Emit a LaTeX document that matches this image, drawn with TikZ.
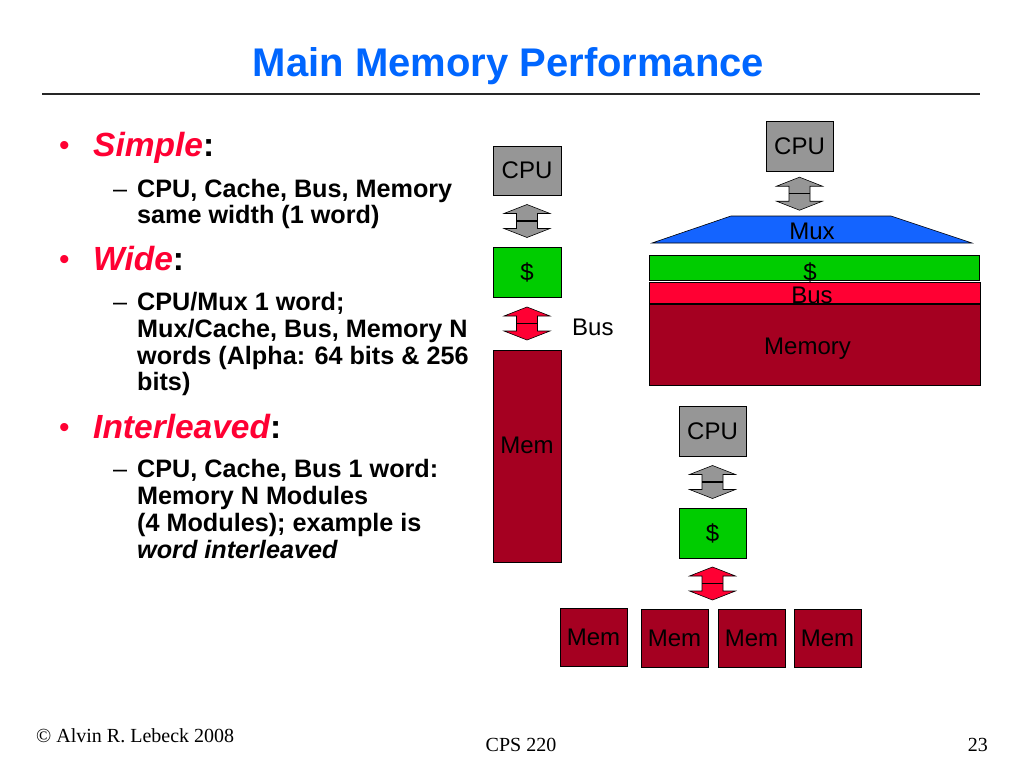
\documentclass[tikz,border=0pt]{standalone}
\usepackage{fontspec}
\setmainfont{Liberation Sans}
\newfontfamily\footfont{Liberation Serif}
\usetikzlibrary{calc}

\definecolor{titleblue}{RGB}{0,102,255}
\definecolor{hotred}{RGB}{255,0,51}
\definecolor{cpugray}{RGB}{150,150,150}
\definecolor{cachegreen}{RGB}{0,204,0}
\definecolor{memred}{RGB}{165,0,33}
\definecolor{muxblue}{RGB}{20,100,255}

\newcommand{\boxfont}{\fontsize{24}{24}\selectfont}

% double headed block arrow between two boxes
\newcommand{\busarrow}[3]{% colour, upper node, lower node
  \coordinate (mid) at ($(#2.south)!0.5!(#2.south|-#3.north)$);
  \draw[arrowline, fill=#1] ($(mid)+(0,-16.5)$) -- ++(23,9) -- ++(-12.5,0) -- ++(0,15)
    -- ++(12.5,0) -- ++(-23,9) -- ++(-23,-9) -- ++(12.5,0) -- ++(0,-15) -- ++(-12.5,0) -- cycle;
  \draw[arrowline, line width=1.3pt] ($(mid)+(-10.5,0)$) -- ++(21,0);
}

\tikzset{
  unitbox/.style={draw=black, line width=0.8pt, inner sep=0pt, minimum width=67pt,
    minimum height=50pt, text=black, font=\boxfont},
  cpubox/.style={unitbox, fill=cpugray},
  cachebox/.style={unitbox, fill=cachegreen},
  membox/.style={unitbox, fill=memred},
  boxlabel/.style={font=\boxfont, text=black, inner sep=0pt},
  arrowline/.style={draw=black, line width=0.6pt, line join=miter},
  bodytext/.style={anchor=base west, inner sep=0pt, text=black, font=\bfseries\fontsize{25.2}{27}\selectfont},
  headtext/.style={anchor=base west, inner sep=0pt, text=black, font=\bfseries\fontsize{33.5}{36}\selectfont},
  dashtext/.style={anchor=base west, inner sep=0pt, text=black, font=\fontsize{25.2}{27}\selectfont},
  dottext/.style={anchor=base west, inner sep=0pt, text=hotred, font=\fontsize{30}{30}\selectfont},
  foottext/.style={inner sep=0pt, text=black, font=\footfont\fontsize{20}{20}\selectfont},
}

\begin{document}
\begin{tikzpicture}[x=1pt, y=-1pt]
    \useasboundingbox[fill=white] (0,0) rectangle (1024,768);

    % Title and rule
    \node[anchor=base, inner sep=0pt, text=titleblue, font=\bfseries\fontsize{40}{40}\selectfont]
        (title) at (508.5,76) {Main Memory Performance};
    \draw[line width=1.6pt, black!85] (42,94) -- (980,94);

    % Bullet list
    \node[dottext] (dotSimple) at (59,155) {•};
    \node[headtext] (hdSimple) at (93,156) {\textcolor{hotred}{\itshape Simple}:};
    \node[dashtext] (dashSimple) at (113,197) {–};
    \node[bodytext] (simpleA) at (137,197) {CPU, Cache, Bus, Memory};
    \node[bodytext] (simpleB) at (137,223) {same width (1 word)};

    \node[dottext] (dotWide) at (59,269) {•};
    \node[headtext] (hdWide) at (93,270) {\textcolor{hotred}{\itshape Wide}:};
    \node[dashtext] (dashWide) at (113,310) {–};
    \node[bodytext] (wideA) at (137,310) {CPU/Mux 1 word;};
    \node[bodytext] (wideB) at (137,337) {Mux/Cache, Bus, Memory N};
    \node[bodytext] (wideC) at (137,364) {words (Alpha: 64 bits \& 256};
    \node[bodytext] (wideD) at (137,390) {bits)};

    \node[dottext] (dotInter) at (59,437) {•};
    \node[headtext] (hdInter) at (93,438) {\textcolor{hotred}{\itshape Interleaved}:};
    \node[dashtext] (dashInter) at (113,477) {–};
    \node[bodytext] (interA) at (137,477) {CPU, Cache, Bus 1 word:};
    \node[bodytext] (interB) at (137,504) {Memory N Modules};
    \node[bodytext] (interC) at (137,531) {(4 Modules); example is};
    \node[bodytext] (interD) at (137,558) {\itshape word interleaved};

    % Simple organisation
    \node[cpubox, minimum width=68pt, minimum height=49pt] (cpuA) at (527,170.5) {CPU};
    \node[cachebox, minimum width=68pt] (cacheA) at (527,272) {\$};
    \node[membox, minimum width=68pt, minimum height=212pt,
        label={[boxlabel, yshift=11pt]center:Mem}] (memA) at (527,456) {};
    \busarrow{cpugray}{cpuA}{cacheA}
    \busarrow{hotred}{cacheA}{memA}
    \node[boxlabel, anchor=west] (busA) at (572,327) {Bus};

    % Wide organisation
    \node[cpubox] (cpuB) at (799.5,146) {CPU};
    \draw[arrowline, fill=muxblue] (652,243) -- (731,216) -- (891,216) -- (972,243) -- cycle;
    \coordinate (muxtop) at (811,216);
    \node[boxlabel] (muxB) at (812,231) {Mux};
    \busarrow{cpugray}{cpuB}{muxtop}
    \node[cachebox, minimum width=330pt, minimum height=25pt] (cacheB) at (814,267.5) {};
    \node[unitbox, fill=hotred, minimum width=331pt, minimum height=21pt] (busB) at (814.5,292.5) {};
    \node[membox, minimum width=331pt, minimum height=81pt,
        label={[boxlabel, xshift=-7pt, yshift=-4pt]center:Memory}] (memB) at (814.5,344.5) {};
    \node[boxlabel] (cacheBtext) at (810,272) {\$};
    \node[boxlabel] (busBtext) at (812,295) {Bus};

    % Interleaved organisation
    \node[cpubox] (cpuC) at (712.5,431) {CPU};
    \node[cachebox] (cacheC) at (712.5,533) {\$};
    \node[membox, minimum height=58pt] (memC1) at (593.5,637) {Mem};
    \node[membox, minimum height=58pt] (memC2) at (674.5,638) {Mem};
    \node[membox, minimum height=58pt] (memC3) at (751.5,638) {Mem};
    \node[membox, minimum height=58pt] (memC4) at (827.5,638) {Mem};
    \busarrow{cpugray}{cpuC}{cacheC}
    \busarrow{hotred}{cacheC}{memC2}

    % Footer
    \node[foottext, anchor=base west] (copy) at (36,742) {© Alvin R. Lebeck 2008};
    \node[foottext, anchor=base] (course) at (521,751) {CPS 220};
    \node[foottext, anchor=base east] (page) at (988,751) {23};
\end{tikzpicture}
\end{document}
